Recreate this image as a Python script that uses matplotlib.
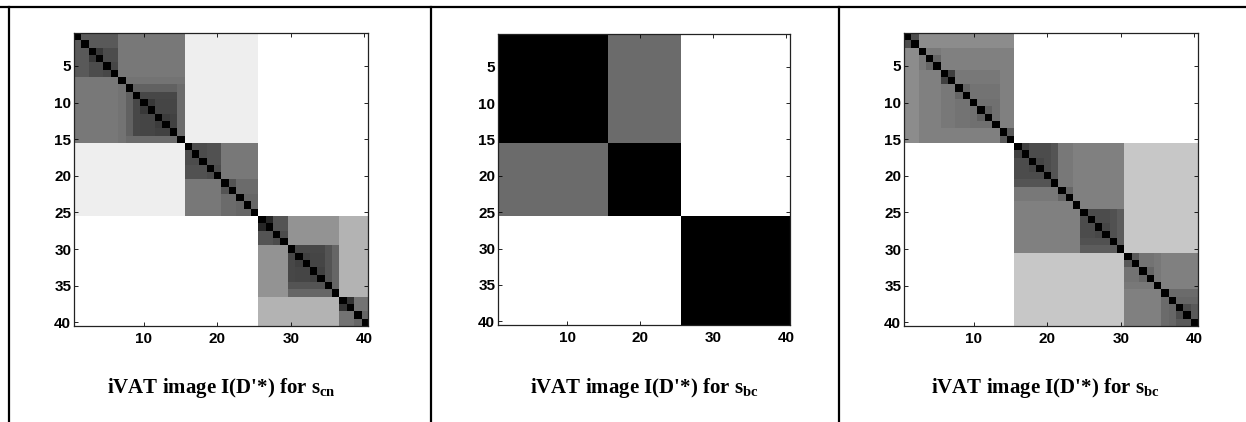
import numpy as np
import matplotlib
matplotlib.use('Agg')
import matplotlib.pyplot as plt
from matplotlib.lines import Line2D

plt.rcParams['mathtext.fontset'] = 'custom'
plt.rcParams['mathtext.rm'] = 'Liberation Serif:bold'
plt.rcParams['mathtext.it'] = 'Liberation Serif:bold'
plt.rcParams['mathtext.bf'] = 'Liberation Serif:bold'

# link weights (iVAT): dissimilarity at which object k joins objects 1..k-1, k = 2..40
link_cn = [0.35, 0.35, 0.22, 0.30, 0.28, 0.47, 0.45, 0.38, 0.28, 0.22, 0.27, 0.24, 0.26, 0.42,
           0.93, 0.30, 0.30, 0.32, 0.30, 0.47, 0.33, 0.42, 0.40, 0.40,
           1.00, 0.15, 0.33, 0.30, 0.58, 0.28, 0.25, 0.27, 0.26, 0.33, 0.40, 0.70, 0.20, 0.45, 0.40]
link_bc_a = [0.0] * 14 + [0.42] + [0.0] * 9 + [1.0] + [0.0] * 14
link_bc_b = [0.30, 0.55, 0.48, 0.40, 0.50, 0.25, 0.47, 0.40, 0.45, 0.44, 0.38, 0.44, 0.50, 0.35,
             1.00, 0.25, 0.30, 0.27, 0.30, 0.33, 0.47, 0.40, 0.50, 0.50, 0.30, 0.30, 0.28, 0.32, 0.36,
             0.78, 0.35, 0.45, 0.40, 0.47, 0.50, 0.42, 0.40, 0.30, 0.35]

captions = ["iVAT image I(D'*) for s$_{cn}$",
            "iVAT image I(D'*) for s$_{bc}$",
            "iVAT image I(D'*) for s$_{bc}$"]
yticks = [5, 10, 15, 20, 25, 30, 35, 40]
xticks = [10, 20, 30, 40]


def ivat_matrix(links):
    # minimax distance between i and j in VAT order = max link weight between them
    w = np.concatenate([[0.0], links])
    n = len(w)
    m = np.zeros((n, n))
    for i in range(n):
        m[i, i + 1:] = np.maximum.accumulate(w[i + 1:])
    return m + m.T


W, H = 1246, 422
fig = plt.figure(figsize=(W / 100, H / 100), dpi=100)

# axes boxes in pixels: left, top, right, bottom
boxes = [(74, 33, 368, 326), (498, 34, 790, 325), (904, 33, 1198, 326)]
caption_x = [221, 644, 1045]

for links, box, cap, cx in zip([link_cn, link_bc_a, link_bc_b], boxes, captions, caption_x):
    l, t, r, b = box
    ax = fig.add_axes([l / W, 1 - b / H, (r - l) / W, (b - t) / H])
    mat = ivat_matrix(links)
    n = mat.shape[0]
    ax.imshow(mat, cmap='gray', vmin=0, vmax=1, interpolation='nearest',
              extent=(0.5, n + 0.5, n + 0.5, 0.5), aspect='auto')
    ax.set_xticks(xticks)
    ax.set_yticks(yticks)
    ax.tick_params(direction='in', length=3, width=0.6, top=True, right=True,
                   labelsize=11)
    ax.tick_params(axis='x', pad=4)
    ax.tick_params(axis='y', pad=2)
    for lab in ax.get_xticklabels() + ax.get_yticklabels():
        lab.set_fontweight('bold')
        lab.set_family('Liberation Sans')
    for sp in ax.spines.values():
        sp.set_linewidth(0.9)
        sp.set_color('#222222')
    fig.text(cx / W, 1 - 388 / H, cap, ha='center', va='center',
             family='Liberation Serif', fontweight='bold', fontsize=15)

# table rules around the panels
fig.add_artist(Line2D([0, 1], [1 - 7 / H, 1 - 7 / H], color='black', lw=1.6,
                      transform=fig.transFigure))
for x in [9, 431, 839]:
    fig.add_artist(Line2D([x / W, x / W], [0, 1 - 7 / H], color='black', lw=1.6,
                          transform=fig.transFigure))

fig.savefig('out.png', dpi=100)
